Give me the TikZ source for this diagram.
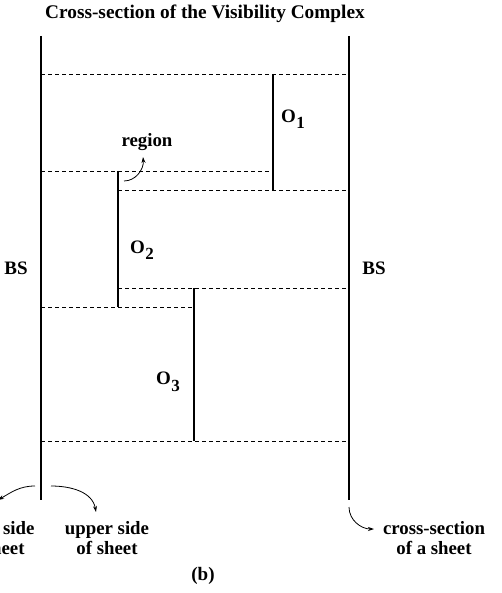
\documentclass[tikz,border=0pt]{standalone}
\usepackage{fontspec}
\setmainfont{Liberation Serif}
\usetikzlibrary{arrows.meta}
\tikzset{
  sheet/.style={line width=1.6pt},
  obstacle/.style={line width=1.6pt},
  boundary/.style={dash pattern=on 4pt off 3pt, line width=0.8pt},
  lbl/.style={font=\bfseries\fontsize{19}{21}\selectfont, inner sep=0pt},
  small/.style={font=\bfseries\fontsize{18.8}{20.5}\selectfont, inner sep=0pt, align=center},
  pointer/.style={line width=0.8pt, -{Stealth[length=6pt,width=4pt]}}
}
\newcommand{\obst}[1]{O\kern0.5pt\raisebox{-0.75ex}{\fontsize{17}{17}\selectfont #1}}
\begin{document}
\begin{tikzpicture}[x=1pt, y=-1pt]
  \clip (0,0) rectangle (501,593);
  % title
  \node[lbl, font=\bfseries\fontsize{19.3}{21}\selectfont] (title) at (205,14) {Cross-section of the Visibility Complex};

  % the two bounding sheets
  \coordinate (L0) at (41,36);  \coordinate (L1) at (41,500);
  \coordinate (R0) at (349,36); \coordinate (R1) at (349,500);
  \draw[sheet] (L0) -- (L1);
  \draw[sheet] (R0) -- (R1);

  % obstacles
  \coordinate (o1t) at (273,74);  \coordinate (o1b) at (273,190);
  \coordinate (o2t) at (118,171); \coordinate (o2b) at (118,307);
  \coordinate (o3t) at (194,288); \coordinate (o3b) at (194,441);
  \draw[obstacle] (o1t) -- (o1b);
  \draw[obstacle] (o2t) -- (o2b);
  \draw[obstacle] (o3t) -- (o3b);

  % region boundaries
  \coordinate (a0) at (41,74);   \coordinate (a1) at (349,74);
  \coordinate (b0) at (41,171);
  \coordinate (c1) at (349,190);
  \coordinate (d1) at (349,288);
  \coordinate (e0) at (41,307);
  \coordinate (f0) at (41,441);  \coordinate (f1) at (349,441);
  \draw[boundary] (a0) -- (a1);
  \draw[boundary] (b0) -- (o1b |- b0);
  \draw[boundary] (o2t |- o1b) -- (c1);
  \draw[boundary] (o2t |- d1) -- (d1);
  \draw[boundary] (e0) -- (o3t |- e0);
  \draw[boundary] (f0) -- (f1);

  % labels
  \node[lbl] (O1) at (293,119) {\obst{1}};
  \node[lbl] (O2) at (142,250) {\obst{2}};
  \node[lbl] (O3) at (168,382) {\obst{3}};
  \node[lbl] (BSl) at (16,268) {BS};
  \node[lbl] (BSr) at (374,268) {BS};

  \node[small] (region) at (147,142) {region};
  \coordinate (rg) at (124,181);
  \coordinate (rt) at (143,157);
  \draw[pointer] (rg) to[out=0, in=-85] (rt);

  % sides of a sheet
  \node[small] (lower) at (-6,538) {lower side\\of sheet};
  \node[small] (upper) at (107,538) {upper side\\of sheet};
  \coordinate (ls) at (35,486);
  \coordinate (us) at (51,486);
  \coordinate (lt) at (-2,500);
  \coordinate (ut) at (96,512);
  \draw[pointer] (ls) to[out=180, in=30] (lt);
  \draw[pointer] (us) to[out=0, in=100] (ut);

  \node[small] (cs) at (434,538) {cross-section\\of a sheet};
  \coordinate (cp) at (349,507);
  \coordinate (ct) at (374,529);
  \draw[pointer] (cp) to[out=-90, in=180] (ct);

  \node[lbl] (b) at (203,576) {(b)};
\end{tikzpicture}
\end{document}
